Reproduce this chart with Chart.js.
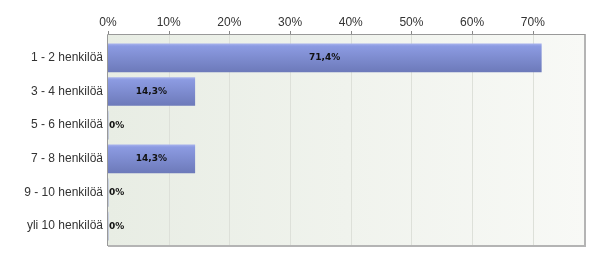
<!DOCTYPE html>
<html>
<head>
<meta charset="utf-8">
<script src="https://cdn.jsdelivr.net/npm/chart.js@4"></script>
<style>
  body { margin: 0; background: #fff; }
</style>
</head>
<body>
<canvas id="barChart" width="600" height="262"></canvas>
<script>
var categories = ['1 - 2 henkilöä', '3 - 4 henkilöä', '5 - 6 henkilöä', '7 - 8 henkilöä', '9 - 10 henkilöä', 'yli 10 henkilöä'];
var percentages = [71.4, 14.3, 0, 14.3, 0, 0];
var tickValues = [0, 10, 20, 30, 40, 50, 60, 70];
var axisMax = 78.6;

// plot frame, background and grid (a bit taller than the category band)
var framePlugin = {
    id: 'frame',
    beforeDraw: function (chart) {
        var c = chart.ctx, a = chart.chartArea, x = chart.scales.x;
        var top = a.top - 7, bottom = a.bottom + 3;
        c.save();
        var bg = c.createLinearGradient(a.left, 0, a.right, 0);
        bg.addColorStop(0, '#e8ede4');
        bg.addColorStop(1, '#f8f9f6');
        c.fillStyle = bg;
        c.fillRect(a.left, top, a.right - a.left, bottom - top);

        c.strokeStyle = '#dde0d9';
        c.lineWidth = 1;
        tickValues.forEach(function (v) {
            if (v === 0) return;
            var px = Math.round(x.getPixelForValue(v)) + 0.5;
            c.beginPath();
            c.moveTo(px, top);
            c.lineTo(px, bottom);
            c.stroke();
        });

        // tick marks above the top line
        c.strokeStyle = '#888';
        tickValues.forEach(function (v) {
            var px = Math.round(x.getPixelForValue(v)) + 0.5;
            c.beginPath();
            c.moveTo(px, top - 3);
            c.lineTo(px, top);
            c.stroke();
        });

        c.strokeStyle = '#b4b4b4';
        c.lineWidth = 2;
        c.beginPath();
        c.moveTo(a.right, top);
        c.lineTo(a.right, bottom);
        c.lineTo(a.left, bottom);
        c.stroke();

        c.strokeStyle = '#999';
        c.lineWidth = 1;
        c.beginPath();
        c.moveTo(a.left - 0.5, bottom);
        c.lineTo(a.left - 0.5, top + 0.5);
        c.lineTo(a.right, top + 0.5);
        c.stroke();
        c.restore();
    },
    afterDatasetsDraw: function (chart) {
        var c = chart.ctx;
        var meta = chart.getDatasetMeta(0);
        c.save();
        c.font = 'bold 9px "DejaVu Sans"';
        c.fillStyle = '#111';
        c.textBaseline = 'middle';
        meta.data.forEach(function (bar, i) {
            var v = percentages[i];
            var txt = String(v).replace('.', ',') + '%';
            if (v === 0) {
                c.textAlign = 'left';
                c.fillText(txt, bar.base + 1, bar.y);
            } else {
                c.textAlign = 'center';
                c.fillText(txt, (bar.base + bar.x) / 2, bar.y);
            }
        });
        c.restore();
    }
};

var ctx = document.getElementById('barChart').getContext('2d');
var myChart = new Chart(ctx, {
    type: 'bar',
    data: {
        labels: categories,
        datasets: [{
            data: percentages,
            barThickness: 28,
            borderWidth: 0,
            backgroundColor: function (context) {
                var chart = context.chart;
                var y = chart.scales.y;
                if (!y || !chart.chartArea || context.dataIndex === undefined) return '#7f8dd4';
                var yc = y.getPixelForValue(context.dataIndex);
                var g = chart.ctx.createLinearGradient(0, yc - 14, 0, yc + 14);
                g.addColorStop(0, '#a6b1ec');
                g.addColorStop(0.08, '#8c9be2');
                g.addColorStop(1, '#6d7aba');
                return g;
            }
        }]
    },
    options: {
        indexAxis: 'y',
        responsive: false,
        animation: false,
        layout: {
            padding: { left: 0, right: 15, top: 1, bottom: 19 }
        },
        plugins: {
            legend: { display: false },
            tooltip: { enabled: false }
        },
        scales: {
            x: {
                position: 'top',
                min: 0,
                max: axisMax,
                afterBuildTicks: function (scale) {
                    scale.ticks = tickValues.map(function (v) { return { value: v }; });
                },
                afterFit: function (scale) { scale.height = 40; },
                grid: { display: false, drawTicks: false },
                border: { display: false },
                ticks: {
                    padding: 11,
                    color: '#333',
                    font: { family: '"Liberation Sans", Arial, sans-serif', size: 12 },
                    callback: function (v) { return v + '%'; }
                }
            },
            y: {
                afterFit: function (scale) { scale.width = 108; },
                grid: { display: false, drawTicks: false },
                border: { display: false },
                ticks: {
                    padding: 5,
                    color: '#333',
                    font: { family: '"Liberation Sans", Arial, sans-serif', size: 12 }
                }
            }
        }
    },
    plugins: [framePlugin]
});
</script>
</body>
</html>
